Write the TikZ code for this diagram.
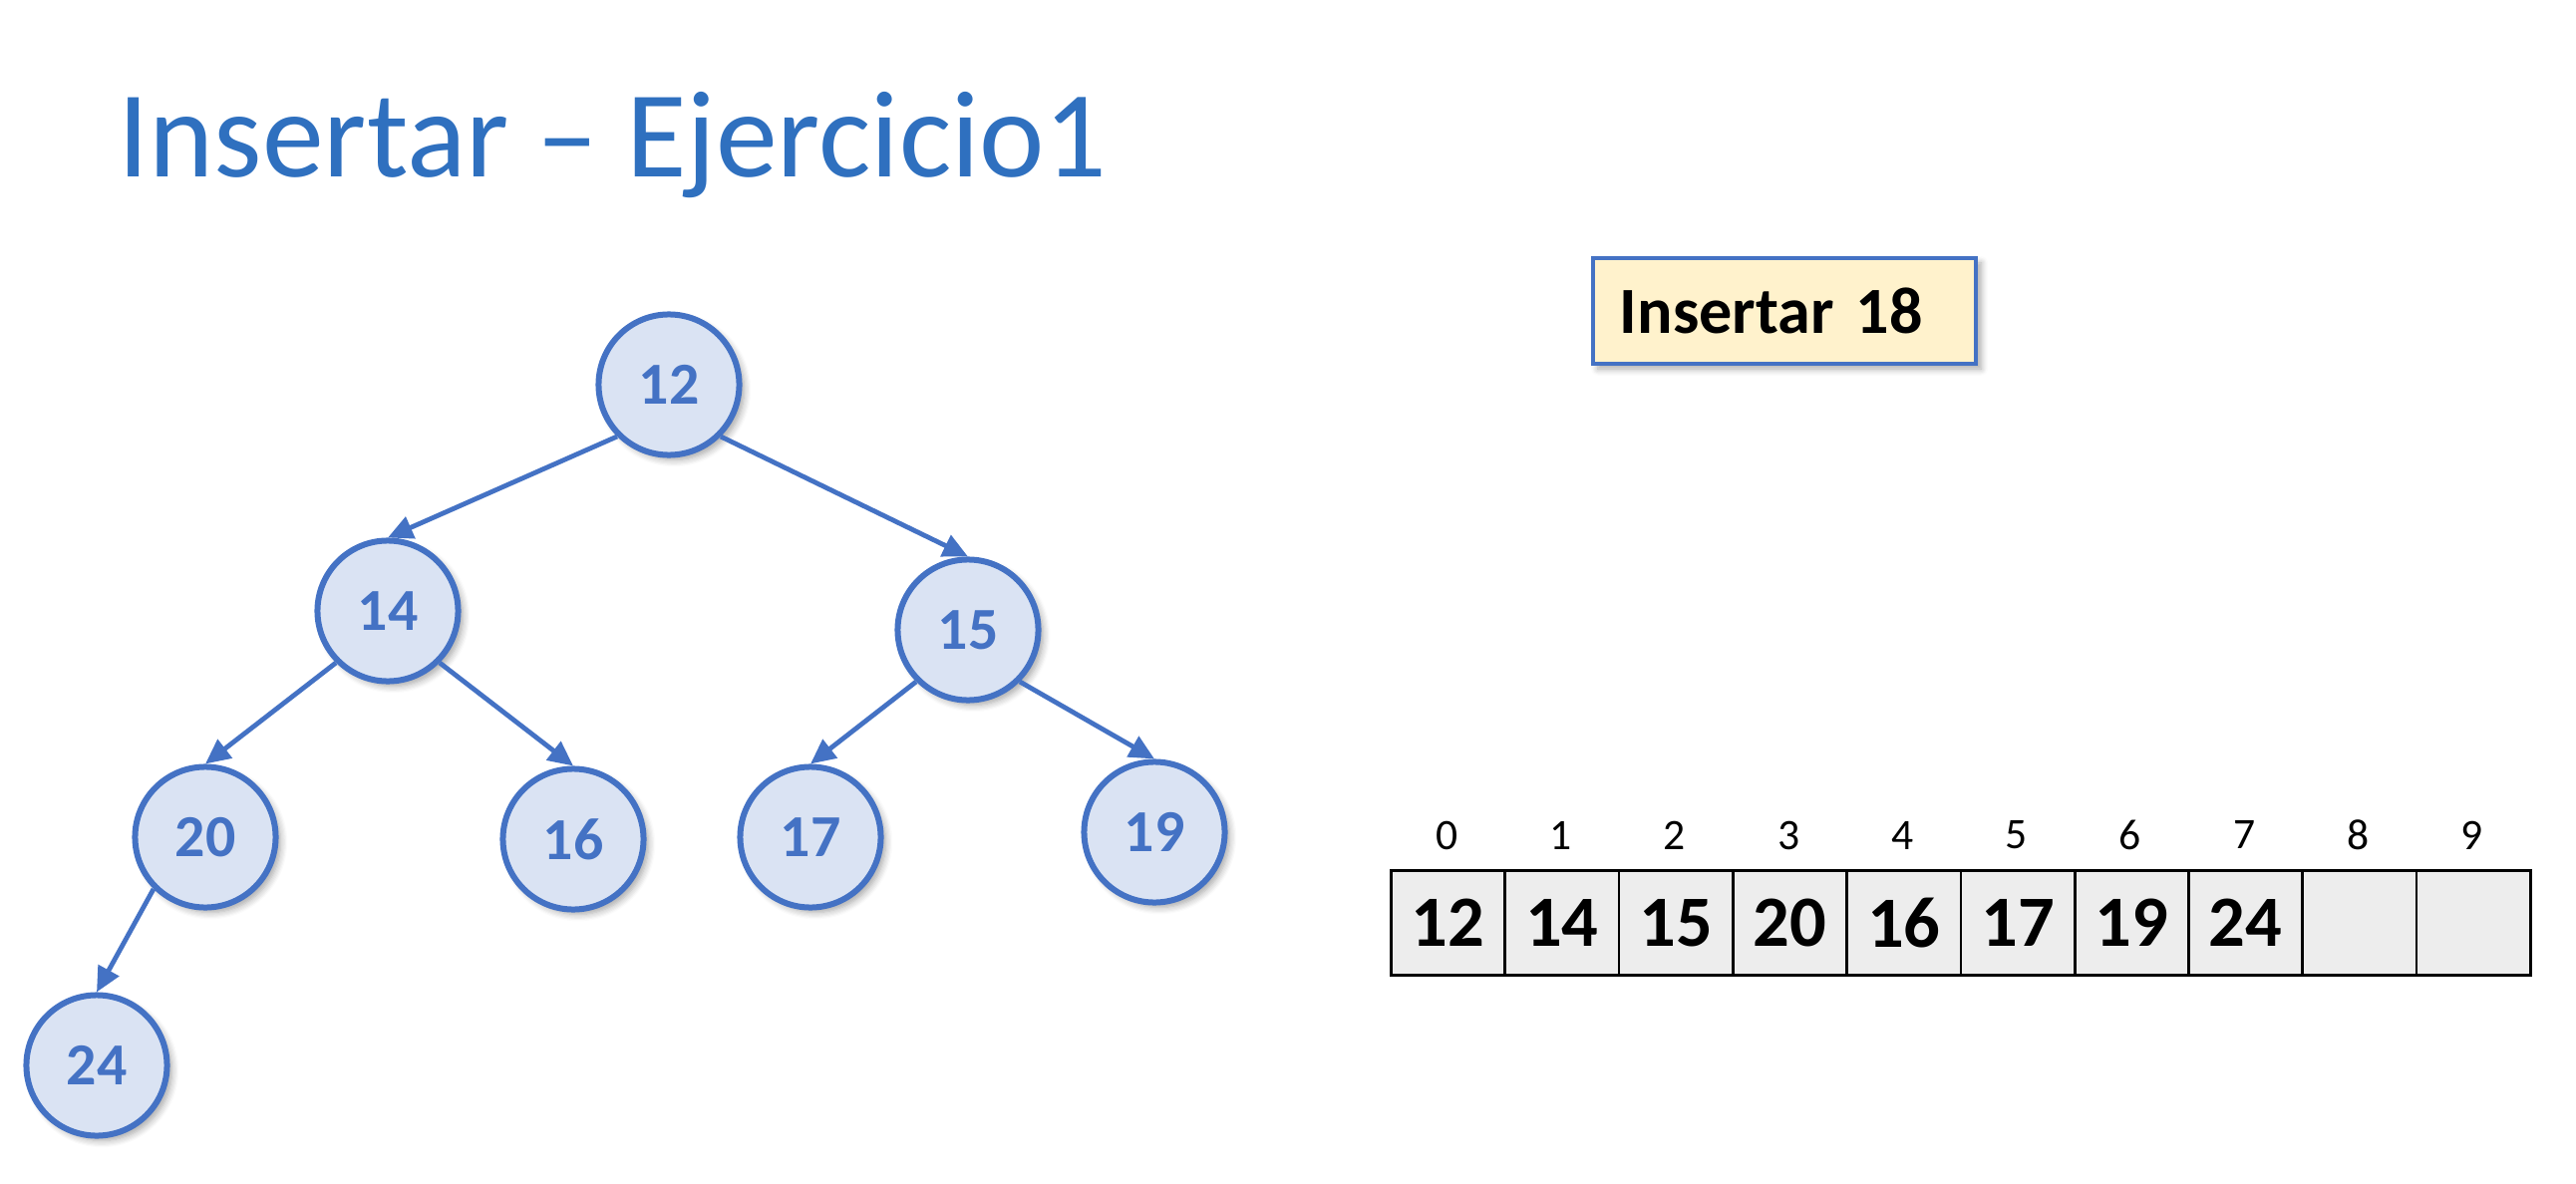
\documentclass[tikz,border=0pt]{standalone}
\usepackage{fontspec}
\setmainfont{Carlito}
\usetikzlibrary{arrows.meta,shadows.blur}
\definecolor{accent}{HTML}{4472C4}
\definecolor{nodefill}{HTML}{DAE3F3}
\definecolor{titleblue}{HTML}{2F70BF}
\definecolor{notefill}{HTML}{FFF2CC}
\definecolor{cellfill}{HTML}{EDEDED}
\begin{document}
\begin{tikzpicture}[x=0.01cm,y=-0.01cm,
  softshadow/.style={blur shadow={shadow xshift=0.05cm, shadow yshift=-0.05cm, shadow blur steps=6, shadow opacity=35}},
  heapnode/.style={circle, draw=accent, fill=nodefill, line width=0.06cm, minimum size=1.41cm, inner sep=0pt, text=accent, font=\fontsize{17}{17}\selectfont\bfseries, softshadow},
  link/.style={draw=accent, line width=0.048cm, -{Triangle[length=0.25cm,width=0.23cm]}},
  cell/.style={draw=black, fill=cellfill, line width=0.027cm, minimum width=1.143cm, minimum height=1.05cm, inner sep=0pt, anchor=north west, font=\fontsize{20.6}{20}\selectfont\bfseries},
  idx/.style={inner sep=0pt, font=\fontsize{12.4}{12}\selectfont}]

\useasboundingbox (0,0) rectangle (2584,1188);

% title
\node[anchor=base west, text=titleblue, inner sep=0pt, font=\fontsize{35.2}{40}\selectfont] (title) at (118,178) {Insertar – Ejercicio1};

% heap tree
\node[heapnode] (n12) at (671,386) {12};
\node[heapnode] (n14) at (389,613) {14};
\node[heapnode] (n15) at (971,632) {15};
\node[heapnode] (n20) at (206,840) {20};
\node[heapnode] (n16) at (575,842) {16};
\node[heapnode] (n17) at (813,840) {17};
\node[heapnode] (n19) at (1158,835) {19};
\node[heapnode] (n24) at (97,1069) {24};

\draw[link] (n12.south west) -- (n14.north);
\draw[link] (n12.south east) -- (n15.north);
\draw[link] (n14.south west) -- (n20.north);
\draw[link] (n14.south east) -- (n16.north);
\draw[link] (n15.south west) -- (n17.north);
\draw[link] (n15.south east) -- (n19.north);
\draw[link] (n20.south west) -- (n24.north);

% note box
\node[draw=accent, fill=notefill, line width=0.04cm, minimum width=3.84cm, minimum height=1.06cm, inner xsep=0.27cm, inner ysep=0pt, text width=3.30cm, align=left, font=\fontsize{18.8}{19}\selectfont\bfseries, softshadow] (ins) at (1790,312) {Insertar 18};

% array
\foreach \i/\v in {0/12,1/14,2/15,3/20,4/16,5/17,6/19,7/24,8/,9/} {
  \node[cell] (a\i) at (1394+114.3*\i,872) {\v};
  \node[idx] (i\i) at (1451.15+114.3*\i,838) {\i};
}
\end{tikzpicture}
\end{document}
